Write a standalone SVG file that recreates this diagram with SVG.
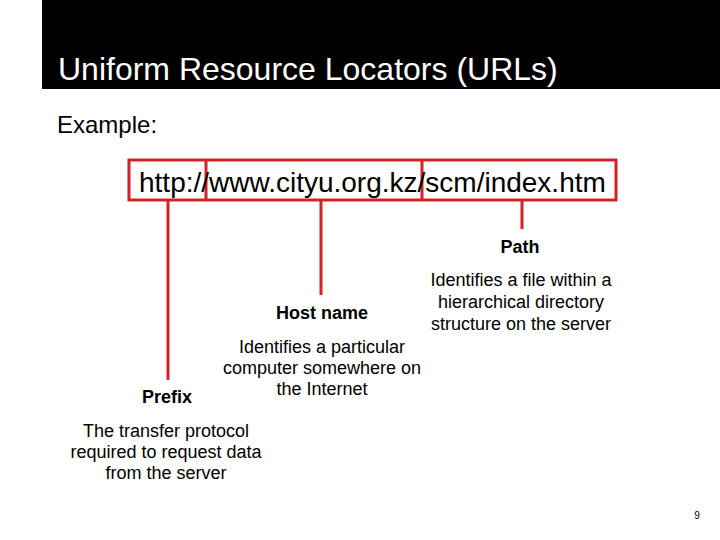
<svg xmlns="http://www.w3.org/2000/svg" width="720" height="540" viewBox="0 0 720 540">
<style>
text{font-family:"Liberation Sans",Arial,sans-serif;fill:#000}
.lbl{font-size:18px;font-weight:bold;text-anchor:middle}
.desc{font-size:18px;text-anchor:middle}
.red{stroke:#d2232a;stroke-width:3;fill:none}
</style>
<rect width="720" height="540" fill="#fff"/>
<rect x="42" y="0" width="678" height="89" fill="#000"/>
<text x="58" y="80" style="font-size:32px;fill:#fff">Uniform Resource Locators (URLs)</text>
<text x="57" y="133" style="font-size:24px">Example:</text>
<g id="url">
<rect class="red" x="129" y="160" width="487" height="40"/>
<line class="red" x1="206" y1="160" x2="206" y2="200"/>
<line class="red" x1="422" y1="160" x2="422" y2="200"/>
<text x="139" y="192" style="font-size:28px">http://www.cityu.org.kz/scm/index.htm</text>
</g>
<g id="connectors">
<line class="red" x1="168" y1="200" x2="168" y2="380"/>
<line class="red" x1="321" y1="200" x2="321" y2="295"/>
<line class="red" x1="522" y1="200" x2="522" y2="229"/>
</g>
<g id="prefix">
<text class="lbl" x="167" y="403">Prefix</text>
<text class="desc" x="166" y="437">The transfer protocol</text>
<text class="desc" x="166" y="458">required to request data</text>
<text class="desc" x="166" y="479">from the server</text>
</g>
<g id="host">
<text class="lbl" x="322" y="319">Host name</text>
<text class="desc" x="322" y="353">Identifies a particular</text>
<text class="desc" x="322" y="374">computer somewhere on</text>
<text class="desc" x="322" y="395">the Internet</text>
</g>
<g id="path">
<text class="lbl" x="520" y="253">Path</text>
<text class="desc" x="521" y="286">Identifies a file within a</text>
<text class="desc" x="521" y="308">hierarchical directory</text>
<text class="desc" x="521" y="330">structure on the server</text>
</g>
<text x="697" y="519" style="font-size:10px;text-anchor:middle">9</text>
</svg>
